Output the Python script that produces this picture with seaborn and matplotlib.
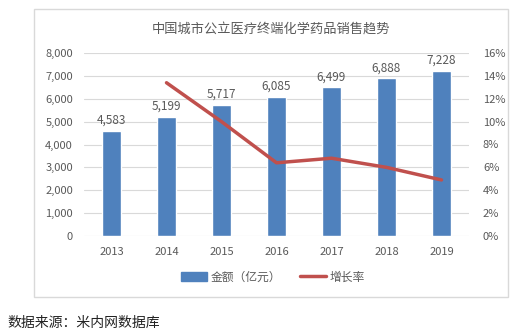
import matplotlib
matplotlib.use("Agg")
import matplotlib.pyplot as plt
import seaborn as sns
import pandas as pd
from matplotlib.patches import Rectangle
from matplotlib.lines import Line2D
from matplotlib.ticker import FuncFormatter

years = ["2013", "2014", "2015", "2016", "2017", "2018", "2019"]
amount = [4583, 5199, 5717, 6085, 6499, 6888, 7228]
growth_years = ["2014", "2015", "2016", "2017", "2018", "2019"]
growth = [13.4, 10.0, 6.4, 6.8, 6.0, 4.9]

title = "中国城市公立医疗终端化学药品销售趋势"
source = "数据来源：米内网数据库"

sns.set_theme(style="white")
plt.rcParams['font.family'] = ['Noto Sans CJK SC', 'DejaVu Sans']

bar_c = "#4F81BD"
line_c = "#C0504D"
txt_c = "#595959"

fig = plt.figure(figsize=(5.29, 3.34), dpi=100)
fig.patches.append(Rectangle((34/529, 1-297/334), (508-34)/529, (297-9)/334,
                             transform=fig.transFigure, fill=False,
                             edgecolor="#D9D9D9", linewidth=1))
ax = fig.add_axes([84/529, 1-236/334, (469-84)/529, (236-53)/334])

df = pd.DataFrame({"year": years, "amount": amount})
sns.barplot(data=df, x="year", y="amount", color=bar_c, width=0.33,
            saturation=1, ax=ax, zorder=3)
ax.set_ylim(0, 8000)
ax.set_xlim(-0.5, 6.5)
ax.set_yticks(range(0, 8001, 1000))
ax.yaxis.set_major_formatter(FuncFormatter(lambda v, p: f"{int(v):,}"))
ax.grid(axis="y", color="#D9D9D9", linewidth=0.8, zorder=0)
ax.set_axisbelow(True)
for s in ax.spines.values():
    s.set_visible(False)
ax.set_xlabel("")
ax.set_ylabel("")
ax.tick_params(axis="both", length=0, labelsize=8, colors=txt_c, pad=8)
for i, v in enumerate(amount):
    ax.text(i, v + 180, f"{v:,}", ha="center", va="bottom", fontsize=8.5, color=txt_c)

ax2 = ax.twinx()
gdf = pd.DataFrame({"year": [years.index(y) for y in growth_years], "growth": growth})
sns.lineplot(data=gdf, x="year", y="growth", color=line_c, linewidth=2.5, ax=ax2)
ax2.set_ylim(0, 16)
ax2.set_xlim(-0.5, 6.5)
ax2.set_yticks(range(0, 17, 2))
ax2.yaxis.set_major_formatter(FuncFormatter(lambda v, p: f"{int(v)}%"))
for s in ax2.spines.values():
    s.set_visible(False)
ax2.set_ylabel("")
ax2.tick_params(axis="both", length=0, labelsize=8, colors=txt_c, pad=10)

fig.text(271/529, 1-29/334, title, ha="center", va="center", fontsize=9.5, color=txt_c)

handles = [Rectangle((0, 0), 1, 1, color=bar_c),
           Line2D([0], [0], color=line_c, linewidth=2.5)]
fig.legend(handles, ["金额（亿元）", "增长率"], loc="center",
           bbox_to_anchor=(273/529, 1-277/334), ncol=2, frameon=False,
           fontsize=8.5, labelcolor=txt_c, handlelength=2.2, handleheight=0.7,
           columnspacing=1.6, handletextpad=0.3)

fig.text(7/529, 1-323/334, source, ha="left", va="center", fontsize=10, color="#222222")

fig.savefig("out.png", dpi=100)
